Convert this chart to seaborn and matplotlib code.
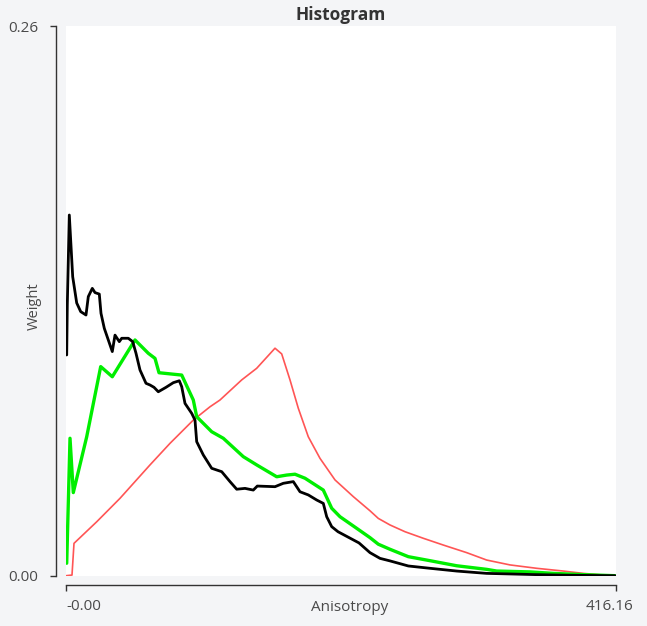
import matplotlib
matplotlib.use("Agg")
import matplotlib.pyplot as plt
import matplotlib.transforms as mtransforms
import seaborn as sns

# --- data (x = anisotropy, y = weight) ---
X_MAX = 416.16
Y_MAX = 0.26

black_x = [0.53, 0.98, 2.50, 5.07, 8.10, 11.12, 15.13, 16.87, 19.90, 21.94, 25.20,
           26.48, 28.98, 32.01, 35.03, 37.08, 40.33, 42.15, 47.14, 50.47, 52.97,
           55.99, 60.53, 63.56, 66.59, 69.84, 75.67, 81.19, 85.73, 87.55, 90.04,
           95.11, 97.61, 98.89, 103.89, 110.24, 117.81, 124.09, 129.16, 135.44,
           141.72, 144.75, 158.14, 164.42, 171.99, 177.06, 183.34, 189.69, 194.69,
           197.26, 201.04, 205.81, 221.70, 230.02, 237.59, 245.15, 259.00, 275.42,
           295.62, 318.32, 356.15, 381.35, 415.40]
black_y = [0.1044, 0.1280, 0.1706, 0.1414, 0.1290, 0.1249, 0.1233, 0.1320, 0.1359,
           0.1339, 0.1332, 0.1241, 0.1170, 0.1115, 0.1060, 0.1138, 0.1107, 0.1123,
           0.1123, 0.1107, 0.1052, 0.0973, 0.0910, 0.0902, 0.0891, 0.0870, 0.0891,
           0.0913, 0.0922, 0.0894, 0.0815, 0.0768, 0.0736, 0.0634, 0.0571, 0.0508,
           0.0492, 0.0445, 0.0409, 0.0413, 0.0405, 0.0424, 0.0421, 0.0437, 0.0445,
           0.0397, 0.0382, 0.0358, 0.0342, 0.0279, 0.0232, 0.0208, 0.0155, 0.0109,
           0.0082, 0.0070, 0.0046, 0.0035, 0.0022, 0.0011, 0.0005, 0.0002, 0.0]

green_x = [0.53, 3.03, 5.52, 15.66, 26.26, 35.03, 52.21, 62.27, 67.34, 70.37, 81.19,
           87.55, 96.32, 98.89, 110.24, 119.02, 134.16, 144.29, 159.43, 166.99,
           173.27, 180.84, 194.69, 201.04, 207.32, 219.96, 230.02, 236.30, 245.15,
           259.00, 275.42, 295.62, 318.32, 325.89, 351.09, 368.72, 391.42, 415.40]
green_y = [0.0059, 0.0650, 0.0393, 0.0657, 0.0989, 0.0941, 0.1115, 0.1052, 0.1028,
           0.0960, 0.0953, 0.0949, 0.0831, 0.0752, 0.0681, 0.0650, 0.0563, 0.0524,
           0.0468, 0.0476, 0.0480, 0.0461, 0.0405, 0.0319, 0.0279, 0.0224, 0.0180,
           0.0149, 0.0125, 0.0090, 0.0071, 0.0047, 0.0030, 0.0022, 0.0018, 0.0011,
           0.0005, 0.0]

red_x = [0.0, 4.54, 6.05, 23.23, 40.86, 63.56, 78.69, 96.32, 108.96, 116.52, 132.94,
         144.29, 158.14, 163.21, 169.49, 175.77, 183.34, 192.19, 203.54, 217.39,
         230.02, 236.30, 245.15, 256.50, 270.35, 285.48, 303.19, 318.32, 335.95,
         356.15, 376.28, 391.42, 406.55, 415.40]
red_y = [0.0, 0.0003, 0.0153, 0.0255, 0.0366, 0.0524, 0.0626, 0.0736, 0.0799, 0.0831,
         0.0926, 0.0981, 0.1076, 0.1049, 0.0926, 0.0792, 0.0657, 0.0555, 0.0453,
         0.0374, 0.0307, 0.0271, 0.0240, 0.0208, 0.0177, 0.0145, 0.0109, 0.0074,
         0.0051, 0.0035, 0.0022, 0.0011, 0.0003, 0.0]

BG = "#f4f5f7"
TEXT = "#4a4a4a"

sns.set_style("ticks")
plt.rcParams["font.family"] = ["Open Sans", "DejaVu Sans"]

fig = plt.figure(figsize=(6.47, 6.26), dpi=100, facecolor=BG)
ax = fig.add_axes([66 / 647, 1 - 575.7 / 626, 550 / 647, 549.7 / 626])
ax.set_facecolor("white")

sns.lineplot(x=red_x, y=red_y, color="#ff5555", linewidth=1.2, estimator=None, ax=ax)
sns.lineplot(x=green_x, y=green_y, color="#00ee00", linewidth=2.4, estimator=None, ax=ax)
sns.lineplot(x=black_x, y=black_y, color="black", linewidth=2.0, estimator=None, ax=ax)

ax.set_xlim(0, X_MAX)
ax.set_ylim(0, Y_MAX)
ax.set_xticks([0, X_MAX])
ax.set_xticklabels(["-0.00", f"{X_MAX:.2f}"])
ax.set_yticks([0, Y_MAX])
ax.set_yticklabels(["0.00", f"{Y_MAX:.2f}"])

sns.despine(ax=ax, offset=7)
for side in ("left", "bottom"):
    ax.spines[side].set_color("#333333")
    ax.spines[side].set_linewidth(1.0)

ax.tick_params(axis="both", direction="out", length=4, width=1, color="#333333",
               labelsize=11, labelcolor=TEXT)
ax.tick_params(axis="x", pad=6)
ax.tick_params(axis="y", pad=9)
xl = ax.get_xticklabels()
xl[0].set_horizontalalignment("left")
# the right label sits a little left of its tick in the reference
shift = mtransforms.ScaledTranslation(-0.06, 0, fig.dpi_scale_trans)
xl[1].set_transform(xl[1].get_transform() + shift)

ax.set_xlabel("Anisotropy", fontsize=11, color=TEXT)
ax.xaxis.set_label_coords(0.515, -0.045)
ax.xaxis.label.set_verticalalignment("top")
ax.set_ylabel("Weight", fontsize=10.5, color=TEXT)
ax.yaxis.set_label_coords(-0.044, 0.49)

ax.set_title("Histogram", fontsize=12.5, fontweight="bold", color="#333333", pad=4)

fig.savefig("out.png", dpi=100, facecolor=BG)
